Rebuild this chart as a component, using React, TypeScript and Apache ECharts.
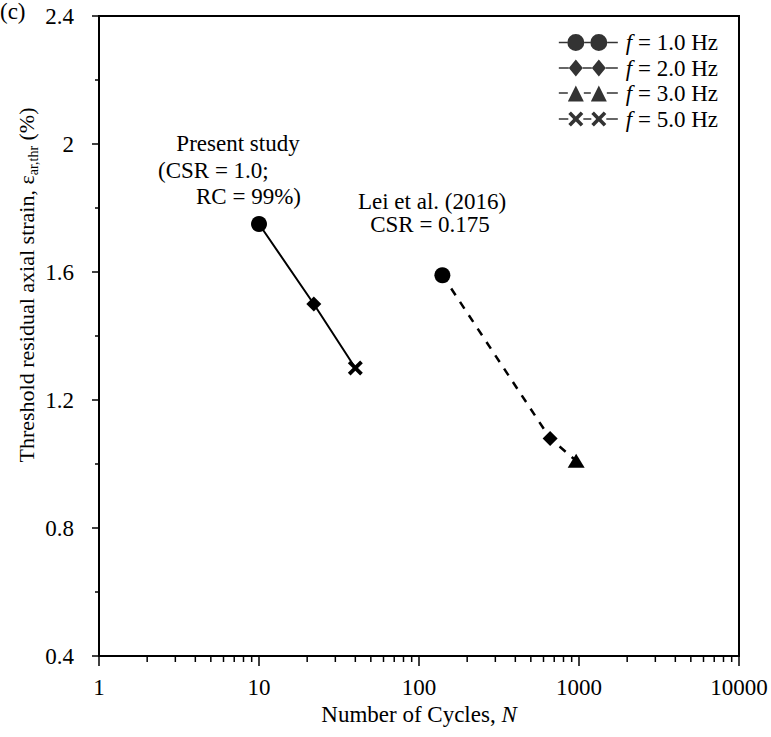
import React, { useEffect, useRef } from 'react';
import * as echarts from 'echarts';

// ---- data ----
const presentN = [10, 22, 40];
const presentStrain = [1.75, 1.5, 1.3];
const presentFreq = [1.0, 2.0, 5.0];

const leiN = [140, 660, 960];
const leiStrain = [1.59, 1.08, 1.01];
const leiFreq = [1.0, 2.0, 3.0];

const legendFreqs = [1.0, 2.0, 3.0, 5.0];
const xTickLabels = ['1', '10', '100', '1000', '10000'];
const yTickLabels = ['0.4', '0.8', '1.2', '1.6', '2', '2.4'];
const xMinorTicks = [
  2, 3, 4, 5, 6, 7, 8, 9,
  20, 30, 40, 50, 60, 70, 80, 90,
  200, 300, 400, 500, 600, 700, 800, 900,
  2000, 3000, 4000, 5000, 6000, 7000, 8000, 9000,
];

// ---- styles ----
const FONT = 'Liberation Serif';
const FS = 23;
const Y_MIN = 0.4;
const Y_MAX = 2.4;
const Y_INT = 0.4;

const serif = (extra: any = {}) => ({
  fontFamily: FONT,
  fontSize: FS,
  fontStyle: 'normal',
  fontWeight: 'normal',
  color: '#000',
  fill: '#000',
  lineHeight: 22,
  ...extra,
});

const crossPath =
  'path://M0,2.5 L2.5,0 L7,4.5 L11.5,0 L14,2.5 L9.5,7 L14,11.5 L11.5,14 L7,9.5 L2.5,14 L0,11.5 L4.5,7 Z';

const markerFor: Record<number, { symbol: string; size: number | number[] }> = {
  1: { symbol: 'circle', size: 16 },
  2: { symbol: 'diamond', size: 15 },
  3: { symbol: 'triangle', size: [17, 14] },
  5: { symbol: crossPath, size: 15 },
};

// legend icons drawn in a 59 x 17 box
const CY = 8.5;
const seg = (a: number, b: number) =>
  `M${a},${CY - 0.75} L${b},${CY - 0.75} L${b},${CY + 0.75} L${a},${CY + 0.75} Z `;
const circ = (c: number) =>
  `M${c - 8.5},${CY} A8.5,8.5 0 1,1 ${c + 8.5},${CY} A8.5,8.5 0 1,1 ${c - 8.5},${CY} Z `;
const diam = (c: number) => `M${c - 7},${CY} L${c},0 L${c + 7},${CY} L${c},17 Z `;
const tri = (c: number) => `M${c - 8},17 L${c},1 L${c + 8},17 Z `;
const crs = (c: number) => {
  const s = 7.5, w = 2.6, cy = CY;
  const pts = [
    [c - s, cy - s + w], [c - s + w, cy - s], [c, cy - w], [c + s - w, cy - s],
    [c + s, cy - s + w], [c + w, cy], [c + s, cy + s - w], [c + s - w, cy + s],
    [c, cy + w], [c - s + w, cy + s], [c - s, cy + s - w], [c - w, cy],
  ];
  return 'M' + pts.map((p) => `${p[0]},${p[1]}`).join(' L') + ' Z ';
};

const legendIcon: Record<number, string> = {
  1: 'path://' + seg(0, 8.5) + circ(17) + seg(25.5, 31.5) + circ(40) + seg(48.5, 59),
  2: 'path://' + seg(0, 10) + diam(17) + seg(24, 33) + diam(40) + seg(47, 59),
  3: 'path://' + seg(0, 9) + tri(17) + seg(25, 32) + tri(40) + seg(48, 59),
  5: 'path://' + seg(0, 9.5) + crs(17) + seg(24.5, 32.5) + crs(40) + seg(47.5, 59),
};

const freqName = (f: number) => `f = ${f.toFixed(1)} Hz`;

const buildPoints = (ns: number[], vals: number[], freqs: number[]) =>
  ns.map((n, i) => ({
    value: [n, vals[i]],
    symbol: markerFor[freqs[i]].symbol,
    symbolSize: markerFor[freqs[i]].size,
  }));

export default function App() {
  const ref = useRef<HTMLDivElement>(null);

  useEffect(() => {
    if (!ref.current) return;
    const chart = echarts.init(ref.current, undefined, { renderer: 'svg' });

    const txt = (text: string, x: number, y: number, align: string, vAlign = 'middle') => ({
      type: 'text',
      x,
      y,
      style: {
        text: `{v|${text}}`,
        fill: '#000',
        align,
        verticalAlign: vAlign,
        textAlign: align,
        textVerticalAlign: vAlign,
        rich: { v: serif() },
      },
    });

    const option: any = {
      animation: false,
      backgroundColor: '#fff',
      textStyle: { fontFamily: FONT },
      grid: {
        left: 99,
        right: 32,
        top: 16,
        bottom: 81,
        show: true,
        borderColor: '#000',
        borderWidth: 2,
        containLabel: false,
        outerBoundsMode: 'none',
      },
      xAxis: {
        type: 'log',
        logBase: 10,
        min: 1,
        max: 10000,
        name: '{a|Number of Cycles, }{b|N}',
        nameLocation: 'middle',
        nameGap: 25,
        nameTextStyle: {
          ...serif(),
          rich: {
            a: serif(),
            b: serif({ fontStyle: 'italic' }),
          },
        },
        axisLine: { show: true, lineStyle: { color: '#000', width: 2 } },
        axisTick: { show: true, length: 10, lineStyle: { color: '#000', width: 1.5 } },
        axisLabel: {
          margin: 20,
          ...serif(),
          formatter: (v: number) => `{v|${xTickLabels[Math.round(Math.log10(v))] ?? ''}}`,
          rich: { v: serif() },
        },
        splitLine: { show: false },
        minorTick: { show: false },
      },
      yAxis: {
        type: 'value',
        min: Y_MIN,
        max: Y_MAX,
        interval: Y_INT,
        axisLine: { show: true, lineStyle: { color: '#000', width: 2 } },
        axisTick: { show: true, length: 7, lineStyle: { color: '#000', width: 1.5 } },
        minorTick: { show: true, splitNumber: 2, length: 4, lineStyle: { color: '#000', width: 1.5 } },
        axisLabel: {
          margin: 25,
          ...serif(),
          formatter: (v: number) => `{v|${yTickLabels[Math.round((v - Y_MIN) / Y_INT)] ?? ''}}`,
          rich: { v: serif() },
        },
        splitLine: { show: false },
      },
      legend: {
        show: true,
        orient: 'vertical',
        right: 48,
        top: 26,
        itemWidth: 59,
        itemHeight: 17,
        itemGap: 2.5,
        selectedMode: false,
        align: 'left',
        data: legendFreqs.map((f) => ({ name: freqName(f), icon: legendIcon[f] })),
        formatter: (name: string) => `{i|f}{n|${name.slice(1)}}`,
        textStyle: {
          ...serif(),
          padding: [0, 0, 0, 3],
          rich: {
            i: serif({ fontStyle: 'italic' }),
            n: serif(),
          },
        },
      },
      graphic: [
        txt('(c)', 0, 0, 'left', 'top'),
        {
          type: 'text',
          x: 26,
          y: 285,
          rotation: Math.PI / 2,
          style: {
            text: '{t|Threshold residual axial strain, ε}{s|ar,thr}{t| (%)}',
            align: 'center',
            verticalAlign: 'middle',
            textAlign: 'center',
            textVerticalAlign: 'middle',
            rich: {
              t: serif({ fontSize: 22, lineHeight: 28 }),
              s: serif({ fontSize: 14, lineHeight: 14, verticalAlign: 'bottom' }),
            },
          },
        },
        txt('Present study', 238, 143, 'center'),
        txt('(CSR = 1.0;', 158, 170, 'left'),
        txt('RC = 99%)', 301, 196, 'right'),
        txt('Lei et al. (2016)', 432, 201, 'center'),
        txt('CSR = 0.175', 430, 224, 'center'),
      ],
      series: [
        {
          type: 'line',
          name: 'Present study',
          data: buildPoints(presentN, presentStrain, presentFreq),
          showSymbol: true,
          itemStyle: { color: '#000' },
          lineStyle: { color: '#000', width: 2, type: 'solid' },
          z: 5,
        },
        {
          type: 'line',
          name: 'Lei et al. (2016)',
          data: buildPoints(leiN, leiStrain, leiFreq),
          showSymbol: true,
          itemStyle: { color: '#000' },
          lineStyle: { color: '#000', width: 2.5, type: [8, 8] },
          z: 5,
        },
        {
          type: 'custom',
          name: 'xMinorTicks',
          data: xMinorTicks.map((v) => [v, Y_MIN]),
          clip: false,
          silent: true,
          z: 4,
          renderItem: (_params: any, api: any) => {
            const p = api.coord([api.value(0), api.value(1)]);
            return {
              type: 'line',
              shape: { x1: p[0], y1: p[1], x2: p[0], y2: p[1] + 6 },
              style: { stroke: '#000', lineWidth: 1.5 },
            };
          },
        },
        ...legendFreqs.map((f) => ({
          type: 'scatter',
          name: freqName(f),
          data: [],
          itemStyle: { color: '#000' },
        })),
      ],
    };

    chart.setOption(option);
    return () => chart.dispose();
  }, []);

  return (
    <div
      ref={ref}
      style={{ position: 'fixed', left: 0, top: 0, width: 771, height: 737, background: '#fff' }}
    />
  );
}
